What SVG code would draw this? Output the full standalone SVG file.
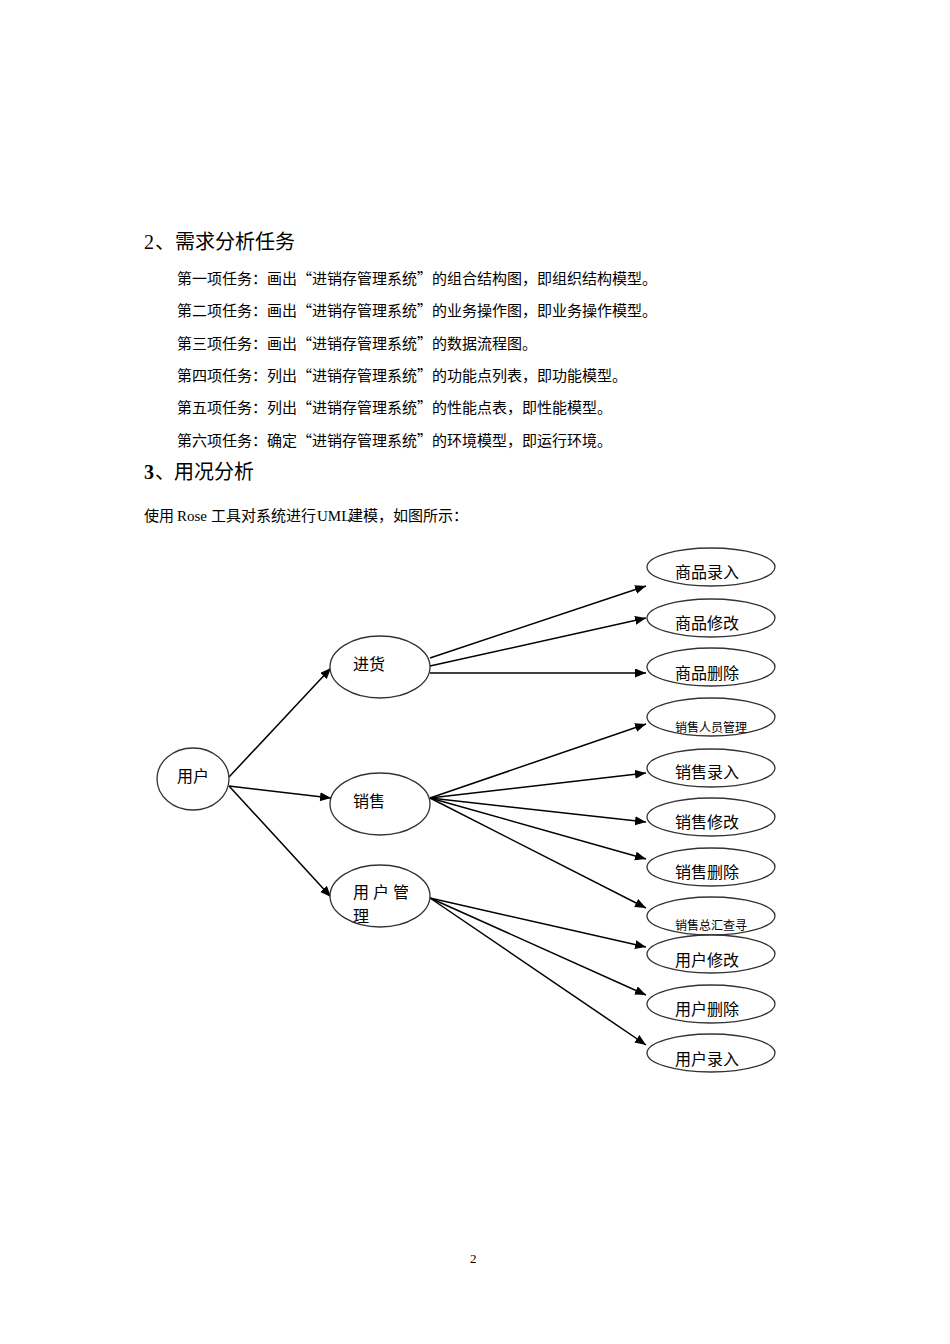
<svg xmlns="http://www.w3.org/2000/svg" width="950" height="1344" viewBox="0 0 950 1344">
<style>
.cjk{font-family:"Noto Sans CJK SC","Noto Sans CJK JP",sans-serif;fill:#000}
.lat{font-family:"Liberation Serif",serif;fill:#000}
.body{font-size:15px}
.h{font-size:20px}
.node ellipse{fill:#fff;stroke:#333;stroke-width:1.3}
.lbl{font-family:"Noto Sans CJK SC",sans-serif;font-size:16px;fill:#000}
.sm{font-family:"Noto Sans CJK SC",sans-serif;font-size:12px;fill:#000}
.conn line{stroke:#000;stroke-width:1.5;marker-end:url(#ah)}
</style>
<defs>
<marker id="ah" markerUnits="userSpaceOnUse" markerWidth="12" markerHeight="10" refX="11" refY="4.5" orient="auto">
<path d="M0,0 L11,4.5 L0,9 z" fill="#000"/>
</marker>
</defs>
<rect width="950" height="1344" fill="#fff"/>

<g id="text-block">
<text x="144" y="249" class="lat h">2</text><text x="155" y="249" class="cjk h">、</text><text x="175" y="249" class="cjk h">需求分析任务</text>
<text x="177" y="284" class="cjk body">第一项任务：画出“进销存管理系统”的组合结构图，即组织结构模型。</text>
<text x="177" y="316" class="cjk body">第二项任务：画出“进销存管理系统”的业务操作图，即业务操作模型。</text>
<text x="177" y="349" class="cjk body">第三项任务：画出“进销存管理系统”的数据流程图。</text>
<text x="177" y="381" class="cjk body">第四项任务：列出“进销存管理系统”的功能点列表，即功能模型。</text>
<text x="177" y="413" class="cjk body">第五项任务：列出“进销存管理系统”的性能点表，即性能模型。</text>
<text x="177" y="446" class="cjk body">第六项任务：确定“进销存管理系统”的环境模型，即运行环境。</text>
<text x="144" y="479" class="lat h" font-weight="bold">3</text><text x="155" y="479" class="cjk h">、</text><text x="174" y="479" class="cjk h">用况分析</text>
<text y="521" class="body"><tspan x="144" class="cjk">使用</tspan><tspan x="177" class="lat">Rose</tspan><tspan x="211" class="cjk">工具对系统进行</tspan><tspan x="317" class="lat">UML</tspan><tspan x="348" class="cjk">建模，如图所示：</tspan></text>
<text x="470" y="1263" class="lat" font-size="13">2</text>
</g>

<g id="connectors" class="conn">
<line x1="229" y1="777" x2="331" y2="668"/>
<line x1="229" y1="786" x2="331" y2="798"/>
<line x1="229" y1="786" x2="331" y2="897"/>
<line x1="430" y1="658" x2="646" y2="586"/>
<line x1="430" y1="666" x2="646" y2="618"/>
<line x1="430" y1="673" x2="646" y2="673"/>
<line x1="430" y1="798" x2="646" y2="724"/>
<line x1="430" y1="798" x2="646" y2="773"/>
<line x1="430" y1="798" x2="646" y2="822"/>
<line x1="430" y1="798" x2="646" y2="859"/>
<line x1="430" y1="798" x2="646" y2="908"/>
<line x1="430" y1="898" x2="646" y2="947"/>
<line x1="430" y1="898" x2="646" y2="995"/>
<line x1="430" y1="898" x2="646" y2="1045"/>
</g>

<g id="n-user" class="node"><ellipse cx="193" cy="779" rx="36" ry="31"/><text x="177" y="782" class="lbl">用户</text></g>
<g id="n-purchase" class="node"><ellipse cx="380" cy="667" rx="50" ry="31"/><text x="353" y="670" class="lbl">进货</text></g>
<g id="n-sales" class="node"><ellipse cx="380" cy="804" rx="50" ry="31"/><text x="353" y="807" class="lbl">销售</text></g>
<g id="n-usermgmt" class="node"><ellipse cx="380" cy="896" rx="50" ry="31"/><text x="353" y="898" class="lbl" letter-spacing="4">用户管</text><text x="353" y="922" class="lbl">理</text></g>

<g id="n-goods-add" class="node"><ellipse cx="711" cy="567" rx="64" ry="19"/><text x="675" y="578" class="lbl">商品录入</text></g>
<g id="n-goods-edit" class="node"><ellipse cx="711" cy="618" rx="64" ry="19"/><text x="675" y="629" class="lbl">商品修改</text></g>
<g id="n-goods-del" class="node"><ellipse cx="711" cy="667" rx="64" ry="19"/><text x="675" y="679" class="lbl">商品删除</text></g>
<g id="n-sales-staff" class="node"><ellipse cx="711" cy="717" rx="64" ry="19"/><text x="675" y="732" class="sm">销售人员管理</text></g>
<g id="n-sales-add" class="node"><ellipse cx="711" cy="768" rx="64" ry="19"/><text x="675" y="778" class="lbl">销售录入</text></g>
<g id="n-sales-edit" class="node"><ellipse cx="711" cy="817" rx="64" ry="19"/><text x="675" y="828" class="lbl">销售修改</text></g>
<g id="n-sales-del" class="node"><ellipse cx="711" cy="867" rx="64" ry="19"/><text x="675" y="878" class="lbl">销售删除</text></g>
<g id="n-sales-query" class="node"><ellipse cx="711" cy="916" rx="64" ry="19"/><text x="675" y="930" class="sm">销售总汇查寻</text></g>
<g id="n-user-edit" class="node"><ellipse cx="711" cy="954" rx="64" ry="19"/><text x="675" y="966" class="lbl">用户修改</text></g>
<g id="n-user-del" class="node"><ellipse cx="711" cy="1004" rx="64" ry="19"/><text x="675" y="1015" class="lbl">用户删除</text></g>
<g id="n-user-add" class="node"><ellipse cx="711" cy="1053" rx="64" ry="19"/><text x="675" y="1065" class="lbl">用户录入</text></g>
</svg>
